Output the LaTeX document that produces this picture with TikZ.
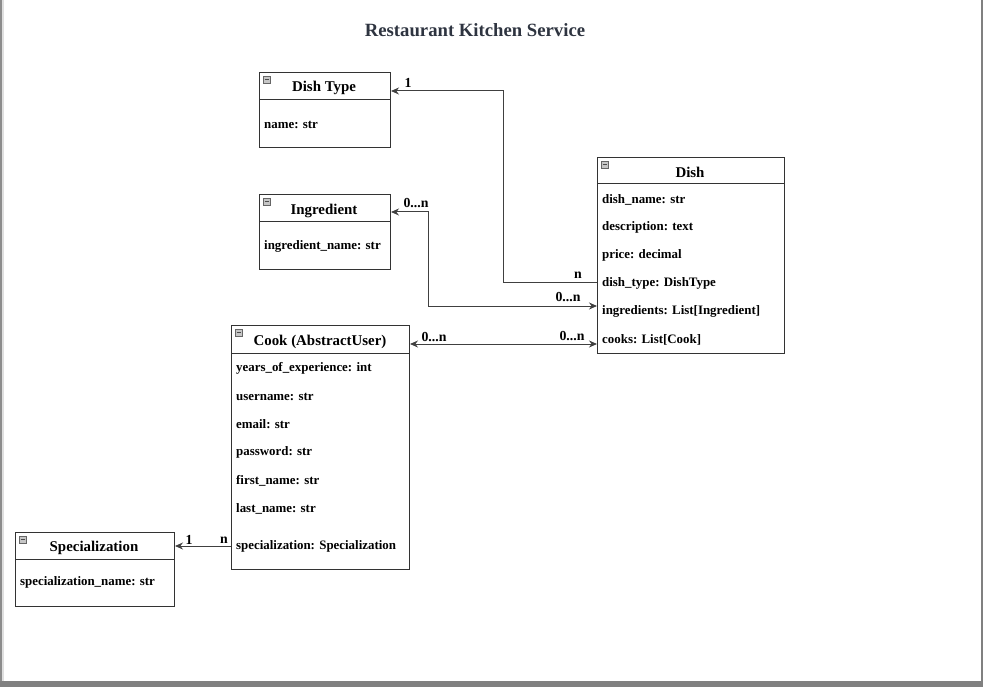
\documentclass[tikz,border=0pt]{standalone}
\usepackage{fontspec}
\setmainfont{Liberation Serif}
\usetikzlibrary{arrows.meta}
\definecolor{titlegray}{HTML}{2E3440}
\begin{document}
\begin{tikzpicture}[x=1pt,y=-1pt,
 box/.style={draw=black!80, line width=1pt, anchor=north west, inner sep=0, fill=white},
 ttl/.style={font=\fontsize{14.9}{16}\selectfont\bfseries, text=black, inner sep=0, yshift=-1.5pt},
 attr/.style={font=\fontsize{12.9}{14}\selectfont\bfseries, anchor=west, inner sep=0, yshift=-0.5pt},
 mult/.style={font=\fontsize{13.8}{15}\selectfont\bfseries, inner sep=0},
 divider/.style={draw=black!80, line width=1pt},
 conn/.style={draw=black!75, line width=1pt},
 tip/.style={-{Stealth[length=8pt,width=7pt]}},
 tips/.style={{Stealth[length=8pt,width=7pt]}-{Stealth[length=8pt,width=7pt]}},
 icon/.style={draw=black!60, fill=gray!45, minimum width=7pt, minimum height=7pt, inner sep=0, anchor=north west, line width=0.4pt}
]
\useasboundingbox (0,0) rectangle (983,687);
% frame
\fill[gray!90] (0,0) rectangle (2,687);
\fill[gray!25] (2,0) rectangle (4,681);
\fill[gray] (981,0) rectangle (983,687);
\fill[gray] (0,681) rectangle (983,687);

% title
\node[font=\fontsize{18.7}{20}\selectfont\bfseries, text=titlegray] (title) at (475,30) {Restaurant Kitchen Service};

% Dish Type
\node[box, minimum width=131pt, minimum height=75pt] (dtype) at (259,72) {};
\draw[divider] (259,100) -- (390,100);
\node[icon] (dtypeicon) at (263,76) {};
\draw[black!70, line width=0.8pt] ([xshift=1.5pt]dtypeicon.west) -- ([xshift=-1.5pt]dtypeicon.east);
\node[ttl] (dtypet) at (324,86) {Dish Type};
\node[attr] (dt1) at (264,124) {name: str};

% Ingredient
\node[box, minimum width=131pt, minimum height=75pt] (ingr) at (259,194) {};
\draw[divider] (259,222) -- (390,222);
\node[icon] (ingricon) at (263,198) {};
\draw[black!70, line width=0.8pt] ([xshift=1.5pt]ingricon.west) -- ([xshift=-1.5pt]ingricon.east);
\node[ttl] (ingrt) at (324,209) {Ingredient};
\node[attr] (in1) at (264,246) {ingredient\_name: str};

% Dish
\node[box, minimum width=187pt, minimum height=196pt] (dish) at (597,157) {};
\draw[divider] (597,184) -- (784,184);
\node[icon] (dishicon) at (601,161) {};
\draw[black!70, line width=0.8pt] ([xshift=1.5pt]dishicon.west) -- ([xshift=-1.5pt]dishicon.east);
\node[ttl] (disht) at (690,171) {Dish};
\node[attr] (d1) at (602,199) {dish\_name: str};
\node[attr] (d2) at (602,227) {description: text};
\node[attr] (d3) at (602,255) {price: decimal};
\node[attr] (d4) at (602,283) {dish\_type: DishType};
\node[attr] (d5) at (602,311) {ingredients: List[Ingredient]};
\node[attr] (d6) at (602,339) {cooks: List[Cook]};

% Cook
\node[box, minimum width=178pt, minimum height=244pt] (cook) at (231,325) {};
\draw[divider] (231,353) -- (409,353);
\node[icon] (cookicon) at (235,329) {};
\draw[black!70, line width=0.8pt] ([xshift=1.5pt]cookicon.west) -- ([xshift=-1.5pt]cookicon.east);
\node[ttl] (cookt) at (320,340) {Cook (AbstractUser)};
\node[attr] (c1) at (236,368) {years\_of\_experience: int};
\node[attr] (c2) at (236,396) {username: str};
\node[attr] (c3) at (236,424) {email: str};
\node[attr] (c4) at (236,452) {password: str};
\node[attr] (c5) at (236,480) {first\_name: str};
\node[attr] (c6) at (236,508) {last\_name: str};
\node[attr] (c7) at (236,546) {specialization: Specialization};

% Specialization
\node[box, minimum width=159pt, minimum height=74pt] (spec) at (15,532) {};
\draw[divider] (15,559) -- (174,559);
\node[icon] (specicon) at (19,536) {};
\draw[black!70, line width=0.8pt] ([xshift=1.5pt]specicon.west) -- ([xshift=-1.5pt]specicon.east);
\node[ttl] (spect) at (94,546) {Specialization};
\node[attr] (s1) at (20,582) {specialization\_name: str};

% connectors
\coordinate (k1) at (503,91);
\draw[conn,tip] (dish.west |- 0,283) -| (k1) -- (dtype.east |- k1);

\coordinate (k2) at (428,212);
\coordinate (k3) at (428,306);
\draw[conn,tips] (ingr.east |- k2) -- (k2) -- (k3) -- (dish.west |- k3);

\coordinate (k4) at (500,344);
\draw[conn,tips] (cook.east |- k4) -- (dish.west |- k4);

\coordinate (k5) at (200,546);
\draw[conn,tip] (cook.west |- k5) -- (spec.east |- k5);

% multiplicities
\node[mult] (m1) at (408,83) {1};
\node[mult] (m2) at (578,275) {n};
\node[mult] (m3) at (416,203) {0...n};
\node[mult] (m4) at (568,297) {0...n};
\node[mult] (m5) at (434,337) {0...n};
\node[mult] (m6) at (572,336) {0...n};
\node[mult] (m7) at (189,540) {1};
\node[mult] (m8) at (224,540) {n};
\end{tikzpicture}
\end{document}
